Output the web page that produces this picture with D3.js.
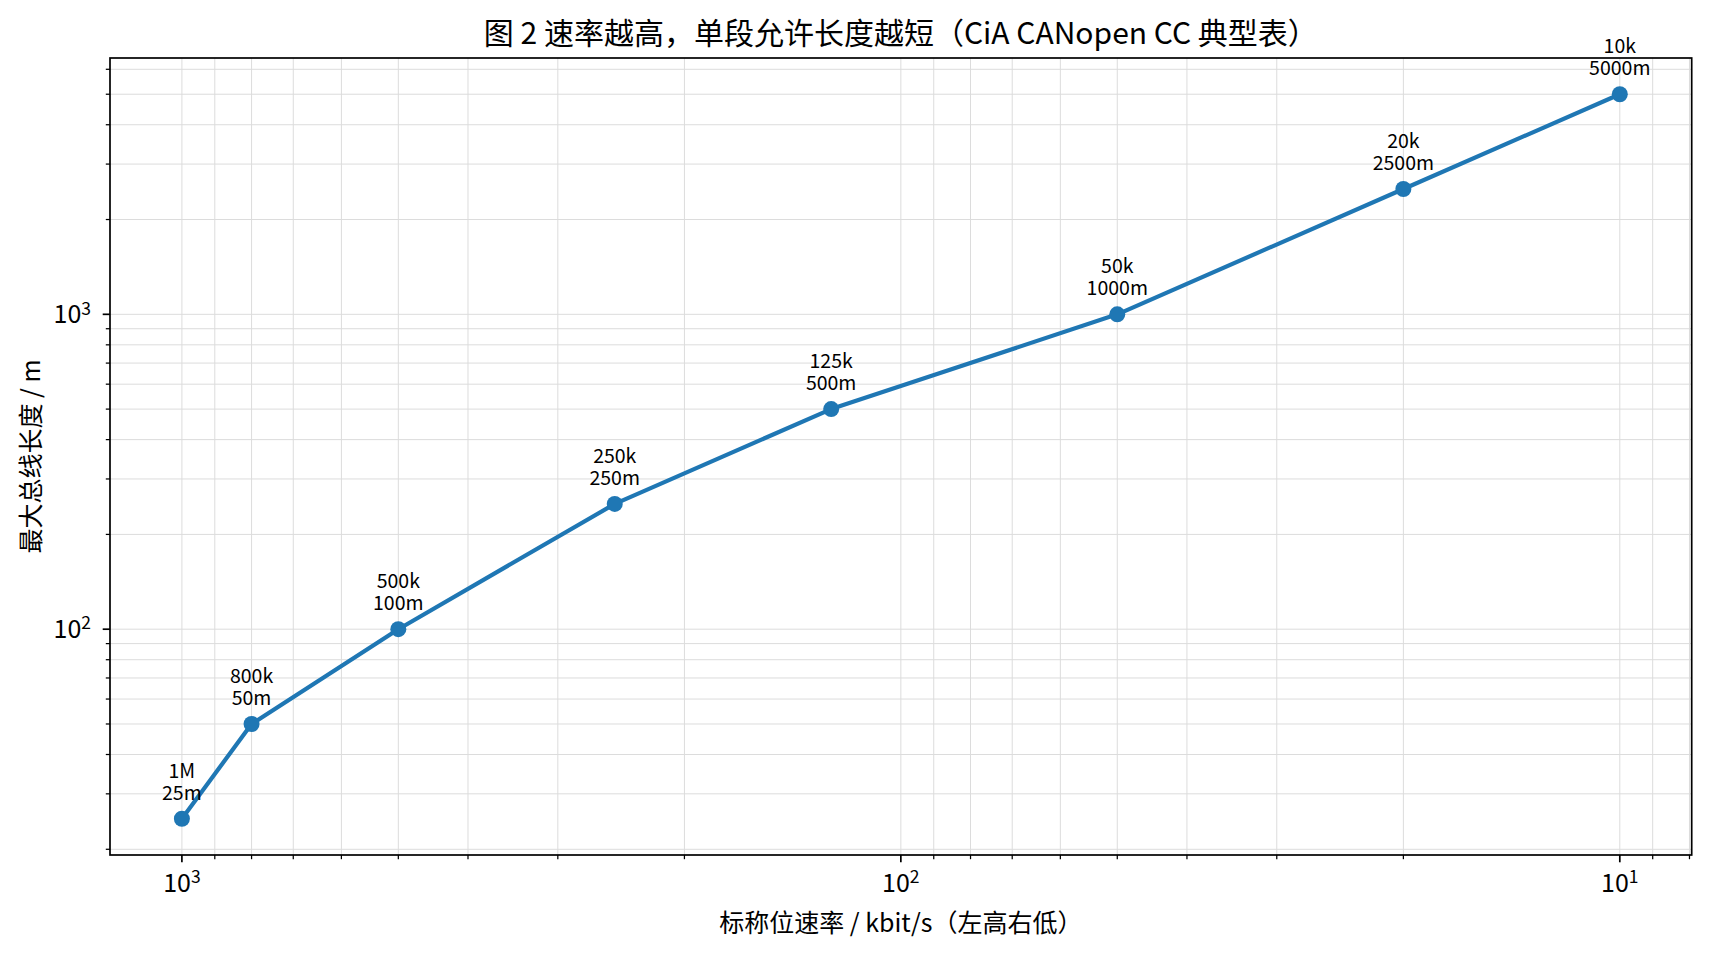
<!DOCTYPE html>
<html>
<head>
<meta charset="utf-8">
<script src="https://cdn.jsdelivr.net/npm/d3@7"></script>
<style>
  html, body { margin: 0; padding: 0; background: #fff; }
  svg { display: block; }
  text { font-family: "Noto Sans CJK SC", "Noto Sans", sans-serif; fill: #000; }
</style>
</head>
<body>
<script>
// ---- data ----
const rateLabels = ["1M", "800k", "500k", "250k", "125k", "50k", "20k", "10k"];
const rates = [1000, 800, 500, 250, 125, 50, 20, 10];          // kbit/s
const lengths = [25, 50, 100, 250, 500, 1000, 2500, 5000];     // m
const lengthLabels = ["25m", "50m", "100m", "250m", "500m", "1000m", "2500m", "5000m"];
const title = "图 2 速率越高，单段允许长度越短（CiA CANopen CC 典型表）";
const xLabel = "标称位速率 / kbit/s（左高右低）";
const yLabel = "最大总线长度 / m";

// ---- layout ----
const W = 1710, H = 954;
const mL = 110, mR = 1691.7, mT = 58, mB = 855;

const svg = d3.select("body").append("svg").attr("width", W).attr("height", H);

// log domains with 5% margins (in log space)
function padDomain(vals, reverse) {
  const lo = Math.log10(d3.min(vals)), hi = Math.log10(d3.max(vals));
  const m = (hi - lo) * 0.05;
  const d = [Math.pow(10, lo - m), Math.pow(10, hi + m)];
  return reverse ? d.reverse() : d;
}
const x = d3.scaleLog().domain(padDomain(rates, true)).range([mL, mR]);
const y = d3.scaleLog().domain(padDomain(lengths, false)).range([mB, mT]);

const isMajor = v => Math.abs(Math.log10(v) - Math.round(Math.log10(v))) < 1e-9;
const xTicks = x.ticks().filter(v => v >= d3.min(x.domain()) && v <= d3.max(x.domain()));
const yTicks = y.ticks().filter(v => v >= d3.min(y.domain()) && v <= d3.max(y.domain()));

// ---- grid ----
const grid = svg.append("g");
grid.selectAll(".gx").data(xTicks).enter().append("line")
  .attr("x1", d => x(d)).attr("x2", d => x(d)).attr("y1", mT).attr("y2", mB)
  .attr("stroke", "#dcdcdc").attr("stroke-width", 1);
grid.selectAll(".gy").data(yTicks).enter().append("line")
  .attr("x1", mL).attr("x2", mR).attr("y1", d => y(d)).attr("y2", d => y(d))
  .attr("stroke", "#dcdcdc").attr("stroke-width", 1);

// ---- axes ----
function supLabel(sel) {
  sel.text(null);
  sel.each(function(d) {
    const t = d3.select(this);
    t.append("tspan").text("10");
    t.append("tspan").attr("dy", "-0.5em").attr("font-size", "17.5px").text(Math.round(Math.log10(d)));
  });
}

const gx = svg.append("g").attr("transform", `translate(0,${mB})`);
gx.selectAll(".tk").data(xTicks).enter().append("line")
  .attr("x1", d => x(d)).attr("x2", d => x(d)).attr("y1", 0)
  .attr("y2", d => isMajor(d) ? 7.3 : 4.2)
  .attr("stroke", "#000").attr("stroke-width", d => isMajor(d) ? 1.7 : 1.25);
gx.selectAll(".lb").data(xTicks.filter(isMajor)).enter().append("text")
  .attr("x", d => x(d)).attr("y", 37).attr("text-anchor", "middle")
  .attr("font-size", "25px")
  .call(supLabel);

const gy = svg.append("g").attr("transform", `translate(${mL},0)`);
gy.selectAll(".tk").data(yTicks).enter().append("line")
  .attr("y1", d => y(d)).attr("y2", d => y(d)).attr("x1", 0)
  .attr("x2", d => isMajor(d) ? -7.3 : -4.2)
  .attr("stroke", "#000").attr("stroke-width", d => isMajor(d) ? 1.7 : 1.25);
gy.selectAll(".lb").data(yTicks.filter(isMajor)).enter().append("text")
  .attr("x", -19).attr("y", d => y(d) + 9).attr("text-anchor", "end")
  .attr("font-size", "25px")
  .call(supLabel);

// frame
svg.append("rect").attr("x", mL).attr("y", mT)
  .attr("width", mR - mL).attr("height", mB - mT)
  .attr("fill", "none").attr("stroke", "#000").attr("stroke-width", 1.7);

// ---- data line ----
const pts = rates.map((r, i) => ({ r, l: lengths[i], a: rateLabels[i], b: lengthLabels[i] }));
svg.append("path").datum(pts)
  .attr("d", d3.line().x(d => x(d.r)).y(d => y(d.l)))
  .attr("fill", "none").attr("stroke", "#1f77b4").attr("stroke-width", 4.2)
  .attr("stroke-linejoin", "round").attr("stroke-linecap", "round");
svg.selectAll(".pt").data(pts).enter().append("circle")
  .attr("cx", d => x(d.r)).attr("cy", d => y(d.l)).attr("r", 8)
  .attr("fill", "#1f77b4");

// annotations
const ann = svg.selectAll(".ann").data(pts).enter().append("text")
  .attr("text-anchor", "middle").attr("font-size", "19.5px");
ann.append("tspan").attr("x", d => x(d.r)).attr("y", d => y(d.l) - 41).text(d => d.a);
ann.append("tspan").attr("x", d => x(d.r)).attr("y", d => y(d.l) - 19).text(d => d.b);

// ---- titles ----
svg.append("text").attr("x", (mL + mR) / 2).attr("y", 44)
  .attr("text-anchor", "middle").attr("font-size", "30px").text(title);
svg.append("text").attr("x", (mL + mR) / 2).attr("y", 932)
  .attr("text-anchor", "middle").attr("font-size", "25px").text(xLabel);
svg.append("text").attr("transform", `translate(39.5,${(mT + mB) / 2}) rotate(-90)`)
  .attr("text-anchor", "middle").attr("font-size", "25px").text(yLabel);
</script>
</body>
</html>
